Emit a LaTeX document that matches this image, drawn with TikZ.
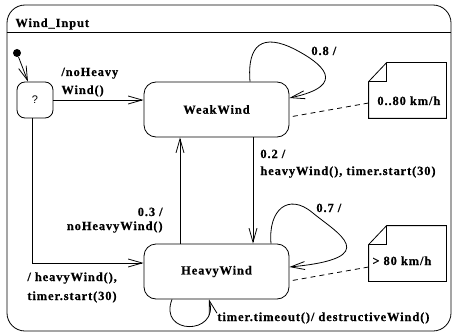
\documentclass[tikz,border=0pt]{standalone}
\usepackage{fontspec}
\newfontfamily\lblfont{Liberation Serif}[LetterSpace=7,BoldFeatures={FakeBold=0.4}]
\newfontfamily\qfont{Liberation Sans}
\usetikzlibrary{arrows.meta,calc}
\begin{document}
\begin{tikzpicture}[x=1pt,y=-1pt,
  line width=0.8pt,
  txt/.style={font=\lblfont\bfseries\fontsize{12.5}{14}\selectfont},
  lbl/.style={txt, inner sep=0pt, align=left},
  state/.style={txt, draw, rounded corners=12pt, minimum width=145pt,
    minimum height=55pt, inner sep=0pt},
  choice/.style={draw, rounded corners=8pt, minimum width=36pt,
    minimum height=36pt, inner sep=0pt, font=\qfont\fontsize{11}{13}\selectfont},
  trans/.style={-{Straight Barb[length=14pt,width=8pt]}},
  noteline/.style={dash pattern=on 5pt off 4pt},
  notebox/.style={inner sep=0pt, minimum width=77pt, minimum height=55pt}]
\useasboundingbox (0,0) rectangle (452,334);

% enclosing composite state
\node[draw, rounded corners=18pt, minimum width=444pt, minimum height=326pt,
  inner sep=0pt] (frame) at (229,168) {};
\draw ($(frame.north west)+(0,28)$) -- ($(frame.north east)+(0,28)$);
\node[lbl, anchor=base west] (title) at (15,27) {Wind\_Input};

% states
\node[circle, fill, inner sep=0pt, minimum size=8pt] (init) at (17,53) {};
\node[choice] (ch) at (35,100) {?};
\node[state] (weak) at (216.5,109.5) {WeakWind};
\node[state] (heavy) at (216.5,271.5) {HeavyWind};

% notes with folded corner
\node[notebox] (n1) at (407.5,90.5) {};
\node[notebox] (n2) at (407.5,253.5) {};
\foreach \n in {n1,n2} {
  \draw ($(\n.north west)+(0,19)$) -- ($(\n.north west)+(18,0)$)
    -- (\n.north east) -- (\n.south east) -- (\n.south west) -- cycle;
  \draw ($(\n.north west)+(0,19)$) -- ($(\n.north west)+(18,19)$)
    -- ($(\n.north west)+(18,0)$);
}
\node[lbl, anchor=base west] (n1t) at (377,105) {0..80 km/h};
\node[lbl, anchor=base west] (n2t) at (372,265) {> 80 km/h};
\draw[noteline] ($(n1.west)+(0,12.5)$) -- ($(weak.east)+(0,7.5)$);
\draw[noteline] ($(n2.west)+(0,13.5)$) -- ($(heavy.east)+(0,9.5)$);

% transitions
\draw[trans] (init) -- (ch);
\draw[trans] (ch.east) -- (ch.east -| weak.west);
\draw[trans] ([xshift=-3pt]ch.south) |- ($(heavy.west)+(0,-8.5)$);
\draw[trans] ($(heavy.north)+(-36.5,0)$) -- ($(weak.south)+(-36.5,0)$);
\draw[trans] ($(weak.south)+(36.5,0)$) -- ($(heavy.north)+(36.5,0)$);

% self transitions
\draw[trans] ($(weak.north)+(33.5,0)$) .. controls +(-3,-37) and +(-33,-17) ..
  ($(weak.north east)+(6,-32)$) .. controls +(25,13) and +(61,-13) ..
  ($(weak.east)+(0,-11.5)$);
\draw[trans] ($(heavy.north)+(54.5,0)$) .. controls +(-3,-34) and +(-24,-20) ..
  ($(heavy.north east)+(23,-31)$) .. controls +(24,20) and +(96,-9) ..
  ($(heavy.east)+(0,-4.5)$);
\draw[trans] ($(heavy.south)+(-44.5,0)$) .. controls +(-14,36) and +(10,36) ..
  ($(heavy.south)+(-7.5,0)$);

% transition labels (multi-line labels are anchored at their last line)
\node[lbl, anchor=base west] (l1) at (61,94) {/noHeavy\\[4pt]Wind()};
\node[lbl, anchor=base west] (l2) at (311,55) {0.8 /};
\node[lbl, anchor=base west] (l3) at (260,175) {0.2 /\\[3pt]heavyWind(), timer.start(30)};
\node[lbl, anchor=base west] (l4) at (316,212) {0.7 /};
\node[lbl, anchor=base east, align=right] (l5) at (163,230) {0.3 /\\noHeavyWind()};
\node[lbl, anchor=base west] (l6) at (27,300) {/ heavyWind(),\\[5pt]timer.start(30)};
\node[lbl, anchor=base west] (l7) at (217,321) {timer.timeout()/ destructiveWind()};
\end{tikzpicture}
\end{document}
